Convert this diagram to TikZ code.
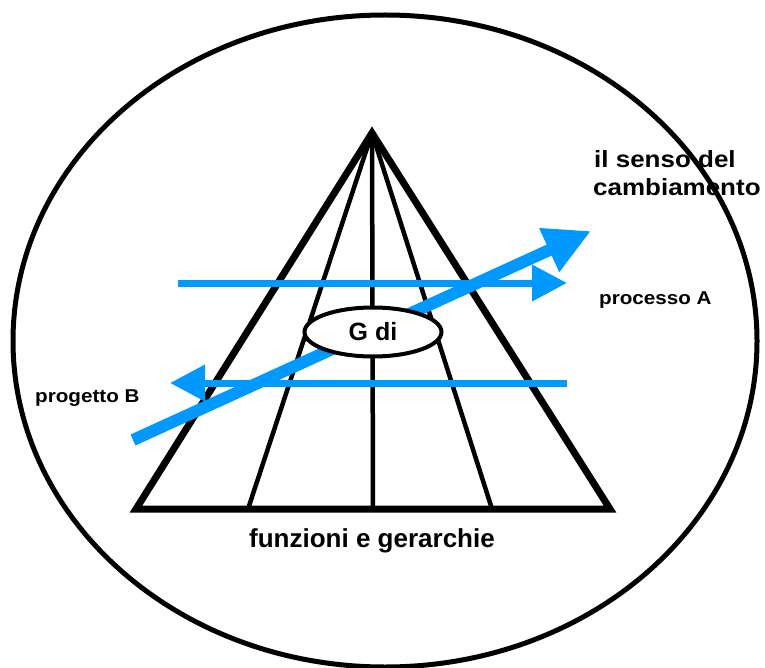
\documentclass[tikz,border=0pt]{standalone}
\usepackage{fontspec}
\setmainfont{Liberation Sans}
\newfontfamily\widefont[FakeStretch=1.11]{Liberation Sans}
\usetikzlibrary{arrows.meta,shapes.geometric}
\definecolor{arrowblue}{RGB}{0,153,255}
\begin{document}
\begin{tikzpicture}[x=1pt,y=-1pt,
  outline/.style={draw=black,line width=5pt},
  pyramid/.style={draw=black,line width=7pt,line join=miter},
  spoke/.style={draw=black,line width=4.5pt},
  flowarrow/.style={draw=arrowblue,line width=7pt,-{Triangle[length=35pt,width=35pt]}},
  bigarrow/.style={draw=arrowblue,line width=12pt,-{Triangle[length=46pt,width=45pt]}},
  centre/.style={ellipse,draw=black,line width=4pt,fill=white,minimum width=137pt,minimum height=49pt,inner sep=0pt,font=\fontsize{25}{30}\selectfont\bfseries},
  biglabel/.style={anchor=base west,inner sep=0pt,font=\widefont\fontsize{23.4}{28}\selectfont\bfseries},
  smalllabel/.style={anchor=base west,inner sep=0pt,font=\widefont\fontsize{18.6}{22}\selectfont\bfseries},
  baselabel/.style={anchor=base,inner sep=0pt,font=\fontsize{26}{30}\selectfont\bfseries}
]
\useasboundingbox (0,0) rectangle (765,668);
% outer ellipse
\draw[outline] (385,341) ellipse [x radius=372, y radius=326];
% pyramid
\coordinate (apex) at (372,133);
\coordinate (bl) at (136,509);
\coordinate (br) at (610,509);
\coordinate (b1) at (248,509);
\coordinate (b2) at (373,509);
\coordinate (b3) at (492,509);
\draw[spoke] (apex) -- (b1);
\draw[spoke] (apex) -- (b2);
\draw[spoke] (apex) -- (b3);
\draw[pyramid] (apex) -- (br) -- (bl) -- cycle;
% blue arrows
\coordinate (aS) at (178,283);
\coordinate (aE) at (567,283);
\coordinate (bS) at (567,383);
\coordinate (bE) at (170,383);
\coordinate (dS) at (133,440);
\coordinate (dE) at (591,231);
\draw[flowarrow] (aS) -- (aE);
\draw[flowarrow] (bS) -- (bE);
\draw[bigarrow] (dS) -- (dE);
% central ellipse
\node[centre] (gdi) at (373,332) {G di};
% labels
\node[biglabel] (senso) at (594,168) {il senso del};
\node[biglabel] (cambio) at (593,196) {cambiamento};
\node[smalllabel] (procA) at (599,304) {processo A};
\node[smalllabel] (progB) at (35,402) {progetto B};
\node[baselabel] (funz) at (372,547) {funzioni e gerarchie};
\end{tikzpicture}
\end{document}
